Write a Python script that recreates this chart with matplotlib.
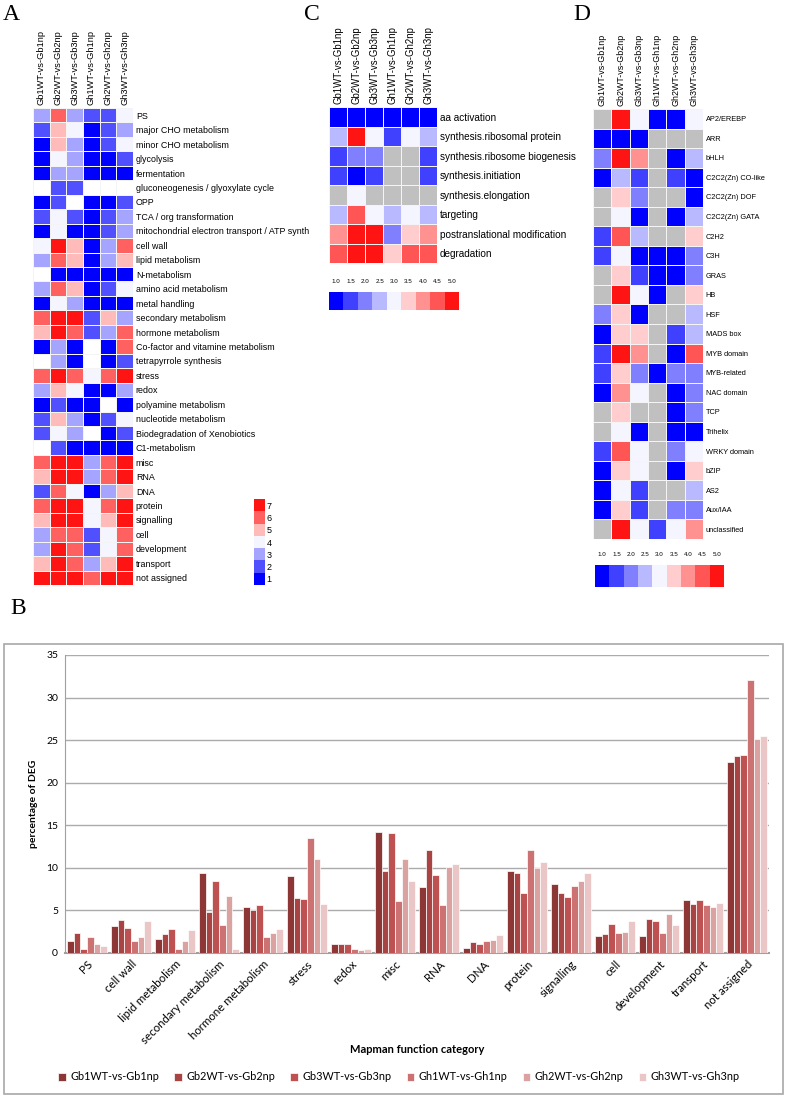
import numpy as np
import matplotlib
matplotlib.use('Agg')
import matplotlib.pyplot as plt
from matplotlib.colors import ListedColormap, BoundaryNorm
from matplotlib.patches import Rectangle

plt.rcParams['font.family'] = ['Liberation Sans', 'DejaVu Sans']

W, H = 787, 1097
nan = np.nan

samples = ['Gb1WT-vs-Gb1np', 'Gb2WT-vs-Gb2np', 'Gb3WT-vs-Gb3np',
           'Gh1WT-vs-Gh1np', 'Gh2WT-vs-Gh2np', 'Gh3WT-vs-Gh3np']

# panel A: mapman bins, level 1-7 (nan = no data)
a_rows = ['PS', 'major CHO metabolism', 'minor CHO metabolism', 'glycolysis', 'fermentation',
          'gluconeogenesis / glyoxylate cycle', 'OPP', 'TCA / org transformation',
          'mitochondrial electron transport / ATP synth', 'cell wall', 'lipid metabolism',
          'N-metabolism', 'amino acid metabolism', 'metal handling', 'secondary metabolism',
          'hormone metabolism', 'Co-factor and vitamine metabolism', 'tetrapyrrole synthesis',
          'stress', 'redox', 'polyamine metabolism', 'nucleotide metabolism',
          'Biodegradation of Xenobiotics', 'C1-metabolism', 'misc', 'RNA', 'DNA', 'protein',
          'signalling', 'cell', 'development', 'transport', 'not assigned']
a_vals = [
    [3, 6, 3, 2, 2, 4],
    [2, 5, 4, 1, 2, 3],
    [1, 5, 3, 1, 2, 4],
    [1, 4, 3, 1, 1, 2],
    [1, 3, 3, 1, 1, 1],
    [nan, 2, 2, nan, nan, nan],
    [1, 2, nan, 1, 1, 2],
    [2, 4, 2, 1, 2, 3],
    [1, 4, 1, 1, 2, 3],
    [4, 7, 5, 1, 3, 6],
    [3, 6, 5, 1, 3, 5],
    [nan, 1, 1, 1, 1, 1],
    [3, 6, 5, 1, 2, 4],
    [1, 4, 3, 1, 1, 1],
    [6, 7, 7, 2, 5, 3],
    [5, 7, 6, 2, 3, 6],
    [1, 3, 1, nan, 1, 6],
    [nan, 3, 1, nan, 1, 2],
    [6, 7, 6, 4, 6, 7],
    [3, 5, 4, 1, 1, 3],
    [1, 2, 1, 1, nan, 1],
    [2, 5, 3, 1, 2, 4],
    [2, 4, 3, nan, 1, 2],
    [nan, 2, 1, 1, 1, 1],
    [6, 7, 7, 3, 6, 7],
    [5, 7, 7, 3, 6, 7],
    [2, 6, 4, 1, 3, 5],
    [6, 7, 7, 4, 6, 7],
    [5, 7, 7, 4, 5, 7],
    [3, 6, 6, 2, 4, 6],
    [3, 7, 6, 2, 4, 6],
    [5, 7, 6, 3, 5, 7],
    [7, 7, 7, 6, 7, 7],
]
a_levels = [1, 2, 3, 4, 5, 6, 7]

# panel C: protein bins, 1.0-5.0 (nan = grey)
c_rows = ['aa activation', 'synthesis.ribosomal protein', 'synthesis.ribosome biogenesis',
          'synthesis.initiation', 'synthesis.elongation', 'targeting',
          'postranslational modification', 'degradation']
c_vals = [
    [1.0, 1.0, 1.0, 1.0, 1.0, 1.0],
    [2.5, 5.0, 3.0, 1.5, 3.0, 2.5],
    [1.5, 2.0, 2.0, nan, nan, 1.5],
    [1.5, 1.0, 1.5, nan, nan, 1.5],
    [nan, 3.0, nan, nan, nan, nan],
    [2.5, 4.5, 3.0, 2.5, 3.0, 2.5],
    [4.0, 5.0, 5.0, 2.0, 3.5, 4.0],
    [4.5, 5.0, 5.0, 3.5, 4.5, 4.5],
]

# panel D: transcription factor families
d_rows = ['AP2/EREBP', 'ARR', 'bHLH', 'C2C2(Zn) CO-like', 'C2C2(Zn) DOF', 'C2C2(Zn) GATA',
          'C2H2', 'C3H', 'GRAS', 'HB', 'HSF', 'MADS box', 'MYB domain', 'MYB-related',
          'NAC domain', 'TCP', 'Trihelix', 'WRKY domain', 'bZIP', 'AS2', 'Aux/IAA', 'unclassified']
d_vals = [
    [nan, 5.0, 3.0, 1.0, 1.0, 3.0],
    [1.0, 1.0, 1.0, nan, nan, nan],
    [2.0, 5.0, 4.0, nan, 1.0, 2.5],
    [1.0, 2.5, 1.5, nan, 1.5, 1.0],
    [nan, 3.5, 2.0, nan, nan, 1.0],
    [nan, 3.0, 1.0, nan, 1.0, 2.5],
    [1.5, 4.5, 2.5, nan, nan, 3.5],
    [1.5, 3.0, 1.0, 1.0, 1.0, 2.0],
    [nan, 3.5, 1.5, 1.0, 1.0, 2.0],
    [nan, 5.0, 3.0, 1.0, nan, 3.5],
    [2.0, 3.5, 1.0, nan, nan, 2.5],
    [1.0, 3.5, 3.5, nan, 1.5, 2.5],
    [1.5, 5.0, 4.0, nan, 1.0, 4.5],
    [1.5, 3.5, 2.0, 1.0, 2.0, 2.0],
    [1.0, 4.0, 3.0, nan, 1.0, 2.0],
    [nan, 3.5, nan, nan, 1.0, 2.0],
    [nan, 3.0, 1.0, nan, 1.0, 1.0],
    [1.5, 4.5, 3.0, nan, 2.0, 3.0],
    [1.0, 3.5, 3.0, nan, 1.0, 3.5],
    [1.0, 3.0, 1.5, nan, nan, 2.5],
    [1.0, 3.5, 1.5, nan, 2.0, 2.0],
    [nan, 5.0, 3.0, 1.5, 3.0, 4.0],
]
cd_levels = [1.0, 1.5, 2.0, 2.5, 3.0, 3.5, 4.0, 4.5, 5.0]

# panel B: percentage of DEG per mapman category
categories = ['PS', 'cell wall', 'lipid metabolism', 'secondary metabolism', 'hormone metabolism',
              'stress', 'redox', 'misc', 'RNA', 'DNA', 'protein', 'signalling', 'cell',
              'development', 'transport', 'not assigned']
gb1 = [1.4, 3.2, 1.7, 9.35, 5.35, 9.05, 1.1, 14.25, 7.7, 0.55, 9.6, 8.1, 1.95, 1.95, 6.2, 22.45]
gb2 = [2.35, 3.85, 2.2, 4.85, 5.05, 6.5, 1.1, 9.6, 12.05, 1.35, 9.35, 7.1, 2.2, 3.95, 5.7, 23.15]
gb3 = [0.5, 2.9, 2.8, 8.5, 5.6, 6.3, 1.05, 14.05, 9.15, 1.0, 7.1, 6.6, 3.35, 3.8, 6.25, 23.3]
gh1 = [1.85, 1.4, 0.5, 3.3, 1.85, 13.5, 0.5, 6.05, 5.6, 1.4, 12.05, 7.9, 2.3, 2.3, 5.6, 32.1]
gh2 = [1.1, 1.9, 1.45, 6.7, 2.35, 11.05, 0.3, 11.05, 10.1, 1.55, 9.95, 8.45, 2.45, 4.55, 5.35, 25.1]
gh3 = [0.8, 3.75, 2.65, 0.45, 2.8, 5.8, 0.5, 8.45, 10.45, 2.1, 10.65, 9.45, 3.7, 3.25, 5.85, 25.5]

fig = plt.figure(figsize=(W / 100, H / 100), dpi=100)


def px_axes(x0, y0, x1, y1):
    # axes placed by pixel box (top-left origin)
    return fig.add_axes([x0 / W, 1 - y1 / H, (x1 - x0) / W, (y1 - y0) / H])


def make_cmap(colors, levels, bad):
    cmap = ListedColormap(colors)
    cmap.set_bad(bad)
    step = levels[1] - levels[0]
    bounds = [levels[0] - step / 2] + [v + step / 2 for v in levels]
    return cmap, BoundaryNorm(bounds, cmap.N)


def heatmap(ax, vals, rows, cmap, norm, bad, row_fs, col_fs):
    data = np.ma.masked_invalid(np.array(vals, dtype=float))
    ax.set_facecolor(bad)
    ax.pcolormesh(data, cmap=cmap, norm=norm, edgecolors='#f4f4f4', linewidth=0.7)
    ax.set_xlim(0, data.shape[1])
    ax.set_ylim(data.shape[0], 0)
    ax.set_xticks(np.arange(data.shape[1]) + 0.5)
    ax.set_xticklabels(samples, rotation=90, fontsize=col_fs)
    ax.xaxis.tick_top()
    ax.set_yticks(np.arange(data.shape[0]) + 0.5)
    ax.set_yticklabels(rows, fontsize=row_fs)
    ax.yaxis.tick_right()
    ax.tick_params(length=0, pad=2)
    for s in ax.spines.values():
        s.set_visible(False)


a_colors = ['#0000ff', '#5050ff', '#a5a5ff', '#f5f5ff', '#ffbaba', '#ff6060', '#ff1414']
cd_colors = ['#0000ff', '#4040ff', '#8080ff', '#b9b9ff', '#f5f5ff',
             '#ffcdcd', '#ff9191', '#ff5555', '#ff1414']

a_cmap, a_norm = make_cmap(a_colors, a_levels, 'white')
cd_cmap, cd_norm = make_cmap(cd_colors, cd_levels, '#c0c0c0')

# panel A
axA = px_axes(33, 108, 133, 585)
heatmap(axA, a_vals, a_rows, a_cmap, a_norm, 'white', 6.4, 6.7)

axAc = px_axes(254, 499, 265, 585)
axAc.imshow(np.array(a_levels[::-1]).reshape(-1, 1), cmap=a_cmap, norm=a_norm, aspect='auto')
axAc.set_xticks([])
axAc.set_yticks(range(len(a_levels)))
axAc.set_yticklabels([str(v) for v in a_levels[::-1]], fontsize=6.5)
axAc.yaxis.tick_right()
axAc.tick_params(length=0, pad=1)
for s in axAc.spines.values():
    s.set_visible(False)

# panel C
axC = px_axes(329, 107, 437, 263)
heatmap(axC, c_vals, c_rows, cd_cmap, cd_norm, '#c0c0c0', 7.2, 6.9)

# panel D
axD = px_axes(593, 109, 703, 539)
heatmap(axD, d_vals, d_rows, cd_cmap, cd_norm, '#c0c0c0', 5.3, 6.4)

for box in [(329, 292, 459, 310), (595, 565, 724, 587)]:
    axcb = px_axes(*box)
    axcb.imshow(np.array(cd_levels).reshape(1, -1), cmap=cd_cmap, norm=cd_norm, aspect='auto')
    axcb.set_yticks([])
    axcb.set_xticks(range(len(cd_levels)))
    axcb.set_xticklabels(['%.1f' % v for v in cd_levels], fontsize=4.5)
    axcb.xaxis.tick_top()
    axcb.tick_params(length=0, pad=6)
    for s in axcb.spines.values():
        s.set_visible(False)

# panel B
bar_font = ['Lato', 'DejaVu Sans']
series = [gb1, gb2, gb3, gh1, gh2, gh3]
bar_colors = ['#8c3636', '#a84444', '#be5252', '#cc7272', '#dba2a2', '#ebc6c6']
axB = px_axes(65, 655, 769, 953)
x = np.arange(len(categories))
bw = 0.152
for i, (vals, col) in enumerate(zip(series, bar_colors)):
    axB.bar(x + (i - 2.5) * bw, vals, width=bw, color=col, edgecolor='white',
            linewidth=0.5, label=samples[i], zorder=3)
axB.set_xlim(-0.5, len(categories) - 0.5)
axB.set_ylim(0, 35)
axB.set_yticks(range(0, 36, 5))
axB.yaxis.grid(True, color='#ababab', linewidth=1.0, zorder=0)
axB.set_xticks(x)
axB.set_xticklabels(categories, rotation=45, ha='right', rotation_mode='anchor',
                    fontsize=8.3, family=bar_font)
for lab in axB.get_yticklabels():
    lab.set_family(bar_font)
    lab.set_fontsize(7.5)
axB.tick_params(axis='both', length=0, pad=5)
axB.tick_params(axis='x', pad=4)
for s in ['top', 'right']:
    axB.spines[s].set_visible(False)
axB.spines['left'].set_color('#a0a0a0')
axB.spines['bottom'].set_color('#a0a0a0')
axB.spines['bottom'].set_linewidth(1.5)
axB.set_ylabel('percentage of DEG', fontsize=7.5, fontweight='bold', family=bar_font, labelpad=6)
axB.set_xlabel('Mapman function category', fontsize=8, fontweight='bold', family=bar_font)
axB.xaxis.set_label_coords(0.5, -(1044 - 953) / (953 - 655))

fig.legend(loc='center', bbox_to_anchor=(399 / W, 1 - 1077 / H), ncol=6, frameon=False,
           handlelength=0.7, handleheight=0.7, handletextpad=0.4, columnspacing=1.4,
           prop={'family': bar_font, 'size': 7.8})

fig.add_artist(Rectangle((4 / W, 1 - 1094 / H), 779 / W, 450 / H, transform=fig.transFigure,
                         fill=False, edgecolor='#a8a8a8', linewidth=1.2))

# panel letters
for letter, px, py in [('A', 3, 4), ('C', 304, 4), ('D', 573, 4), ('B', 10, 598)]:
    fig.text(px / W, 1 - py / H, letter, fontsize=17, family=['Liberation Serif', 'DejaVu Serif'],
             va='top', ha='left')

fig.savefig('out.png', dpi=100)
